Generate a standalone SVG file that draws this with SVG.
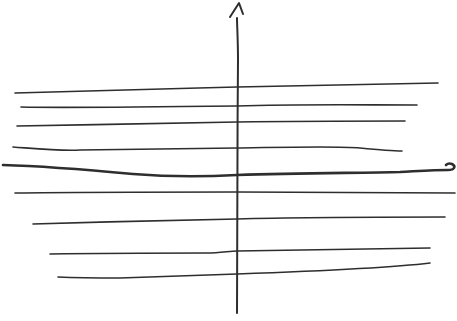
<svg xmlns="http://www.w3.org/2000/svg" width="457" height="321" viewBox="0 0 457 321">
<style>
.ln{fill:none;stroke:#2e2e2e;stroke-width:1.6;stroke-linecap:round;stroke-linejoin:round}
.thick{stroke-width:2.6}
.ax{stroke-width:2}
</style>
<rect width="457" height="321" fill="#ffffff"/>
<g id="connectors">
<path class="ln" d="M15,93 C80,91 160,89 237,87 C320,85 380,84 438,83"/>
<path class="ln" d="M21,107 C60,108 150,107 237,106 C300,104 360,105 417,105"/>
<path class="ln" d="M17,126 C90,125 170,123 237,122 C300,121 360,121 405,121"/>
<path class="ln" d="M13,147 C40,149 60,151 80,150 C150,149 200,148 237,148 C290,147 340,146 360,148 C380,150 390,151 402,151"/>
<path class="ln thick" d="M3,165 C40,166 90,170 133,174 C170,177 200,177 237,175 C300,173 360,173 400,172 C420,171 435,170 448,170 C455,170 456,166 452,164 C449,163 447,164 446,165"/>
<path class="ln" d="M15,193 C80,192 160,192 237,192 C320,192 390,193 455,193"/>
<path class="ln" d="M33,224 C100,222 180,220 237,219 C300,217 380,217 445,217"/>
<path class="ln" d="M50,254 C110,253 170,253 207,253 C220,253 230,251 237,251 C320,250 380,249 430,248"/>
<path class="ln" d="M58,277 C80,278 100,278 120,278 C180,276 210,275 237,274 C320,271 390,268 430,263"/>
<path class="ln ax" d="M237,313 C238,250 237,150 238,60 C238,40 237,25 237,18"/>
<path class="ln ax" d="M230,17 L239,3 L243,14"/>
</g>
</svg>
